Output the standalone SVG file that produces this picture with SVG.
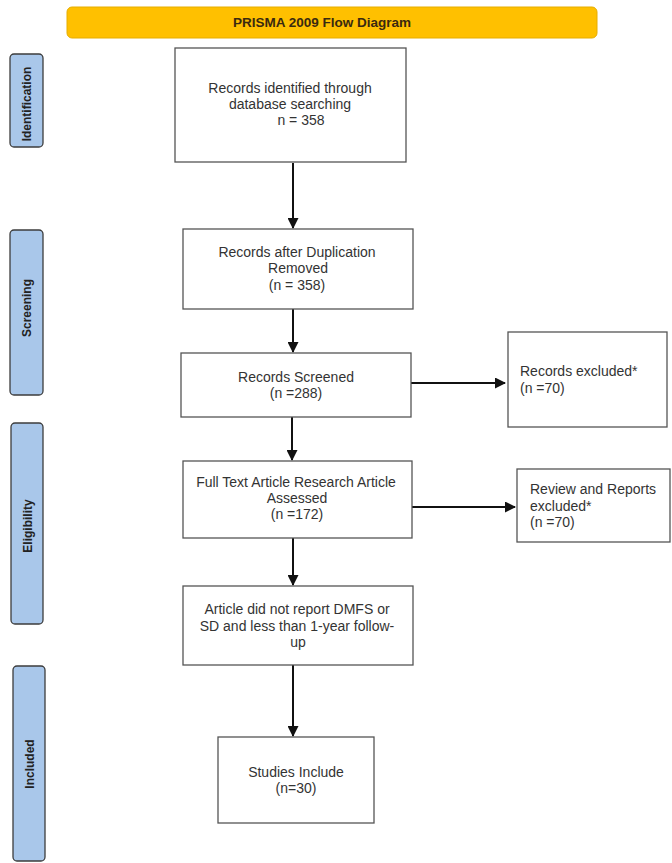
<svg xmlns="http://www.w3.org/2000/svg" width="672" height="863" viewBox="0 0 672 863">
<style>
.box{fill:#fff;stroke:#555;stroke-width:1.3}
.side{fill:#a9c7ea;stroke:#3d3d3d;stroke-width:1.3}
.t{font-family:"Liberation Sans",Arial,sans-serif;font-size:14px;fill:#333}
.c{text-anchor:middle}
.s{font-family:"Liberation Sans",Arial,sans-serif;font-size:12px;font-weight:bold;fill:#222;text-anchor:middle}
.ln{stroke:#111;stroke-width:2;fill:none}
</style>
<defs>
<marker id="ah" markerWidth="11" markerHeight="11" refX="10" refY="5.5" orient="auto" markerUnits="userSpaceOnUse">
<path d="M0,0 L11,5.5 L0,11 Z" fill="#111"/>
</marker>
</defs>
<rect width="672" height="863" fill="#fff"/>
<g id="title">
<rect x="67" y="7" width="530" height="31" rx="5" fill="#ffc000" stroke="#e6ad00" stroke-width="1"/>
<text x="322" y="27" font-family="'Liberation Sans',Arial,sans-serif" font-size="13.5" font-weight="bold" fill="#3a2a10" text-anchor="middle">PRISMA 2009 Flow Diagram</text>
</g>
<g id="side-identification">
<rect class="side" x="10" y="54" width="33" height="93" rx="4"/>
<text class="s" transform="translate(31,104) rotate(-90)">Identification</text>
</g>
<g id="side-screening">
<rect class="side" x="10" y="230" width="33" height="165" rx="4"/>
<text class="s" transform="translate(31,308) rotate(-90)">Screening</text>
</g>
<g id="side-eligibility">
<rect class="side" x="11" y="423" width="32" height="201" rx="4"/>
<text class="s" transform="translate(32,526) rotate(-90)">Eligibility</text>
</g>
<g id="side-included">
<rect class="side" x="13" y="666" width="32" height="195" rx="4"/>
<text class="s" transform="translate(34,764) rotate(-90)">Included</text>
</g>
<g id="connectors">
<line class="ln" x1="293" y1="163" x2="293" y2="228" marker-end="url(#ah)"/>
<line class="ln" x1="293" y1="309" x2="293" y2="352" marker-end="url(#ah)"/>
<line class="ln" x1="292" y1="417" x2="292" y2="460" marker-end="url(#ah)"/>
<line class="ln" x1="293" y1="538" x2="293" y2="585" marker-end="url(#ah)"/>
<line class="ln" x1="293" y1="665" x2="293" y2="736" marker-end="url(#ah)"/>
<line class="ln" x1="411" y1="383" x2="505" y2="383" marker-end="url(#ah)"/>
<line class="ln" x1="412" y1="507" x2="515" y2="507" marker-end="url(#ah)"/>
</g>
<g id="n1">
<rect class="box" x="175" y="48" width="231" height="114"/>
<text class="t c" x="290" y="93">Records identified through</text>
<text class="t c" x="290" y="109">database searching</text>
<text class="t c" x="301" y="125">n = 358</text>
</g>
<g id="n2">
<rect class="box" x="183" y="229" width="230" height="80"/>
<text class="t c" x="297" y="257">Records after Duplication</text>
<text class="t c" x="298" y="273">Removed</text>
<text class="t c" x="297" y="290">(n = 358)</text>
</g>
<g id="n3">
<rect class="box" x="181" y="353" width="230" height="64"/>
<text class="t c" x="296" y="382">Records Screened</text>
<text class="t c" x="296" y="398">(n =288)</text>
</g>
<g id="n3x">
<rect class="box" x="508" y="332" width="159" height="95"/>
<text class="t" x="520" y="376">Records excluded*</text>
<text class="t" x="520" y="393">(n =70)</text>
</g>
<g id="n4">
<rect class="box" x="183" y="461" width="229" height="77"/>
<text class="t c" x="296" y="487">Full Text Article Research Article</text>
<text class="t c" x="297" y="503">Assessed</text>
<text class="t c" x="297" y="519">(n =172)</text>
</g>
<g id="n4x">
<rect class="box" x="517" y="469" width="153" height="73"/>
<text class="t" x="530" y="494">Review and Reports</text>
<text class="t" x="530" y="511">excluded*</text>
<text class="t" x="530" y="527">(n =70)</text>
</g>
<g id="n5">
<rect class="box" x="183" y="586" width="230" height="79"/>
<text class="t c" x="297" y="614">Article did not report DMFS or</text>
<text class="t c" x="297" y="631">SD and less than 1-year follow-</text>
<text class="t c" x="298" y="647">up</text>
</g>
<g id="n6">
<rect class="box" x="218" y="737" width="156" height="86"/>
<text class="t c" x="296" y="777">Studies Include</text>
<text class="t c" x="296" y="793">(n=30)</text>
</g>
</svg>
